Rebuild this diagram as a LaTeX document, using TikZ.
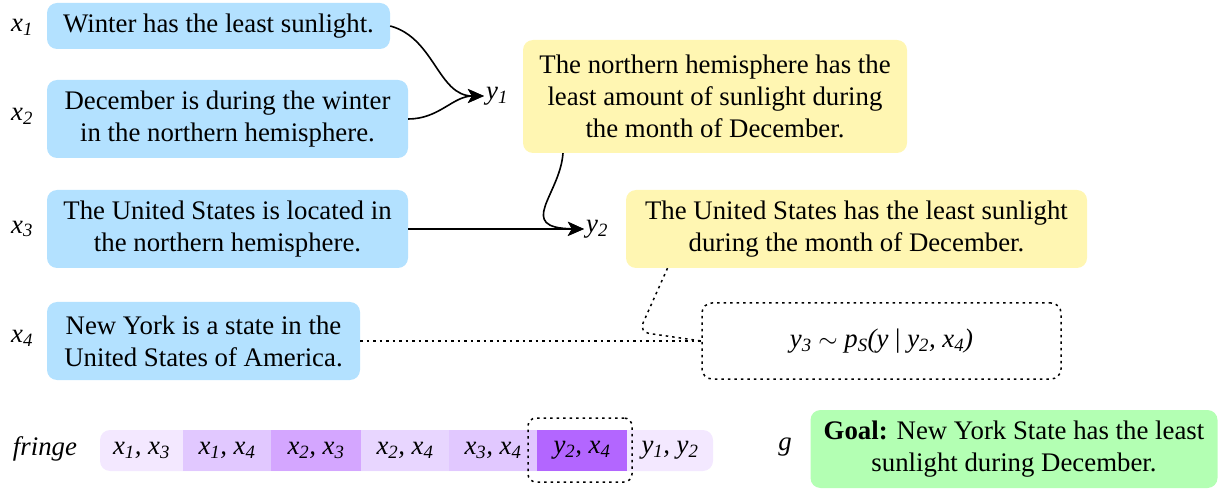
\documentclass[tikz,border=0pt]{standalone}
\usepackage{fontspec}
\setmainfont{Liberation Serif}
\usetikzlibrary{arrows.meta}
\definecolor{bluebox}{RGB}{179,225,255}
\definecolor{yellowbox}{RGB}{255,246,178}
\definecolor{greenbox}{RGB}{179,255,179}
\definecolor{pA}{RGB}{243,232,255}
\definecolor{pB}{RGB}{225,200,255}
\definecolor{pC}{RGB}{212,166,255}
\definecolor{pD}{RGB}{232,214,255}
\definecolor{pE}{RGB}{179,102,255}
\newcommand\vr[2]{\textit{#1\textsubscript{#2}}}
\begin{document}
\begin{tikzpicture}[x=1pt,y=-1pt,
  every node/.style={font=\fontsize{26.8}{32}\selectfont},
  card/.style={rounded corners=10pt, align=center, inner sep=0pt},
  inbox/.style={card, fill=bluebox},
  outbox/.style={card, fill=yellowbox},
  lbl/.style={inner sep=2pt},
  conn/.style={line width=1.6pt, -{Stealth[length=16pt,width=14pt,inset=4pt]}},
  dotline/.style={line width=1.5pt, dash pattern=on 2.5pt off 4pt},
  cell/.style={inner sep=0pt, minimum height=41pt}
]
\useasboundingbox (0,0) rectangle (1219,489);

% premises
\node[inbox, minimum width=343pt, minimum height=46pt] (b1) at (218.5,26) {Winter has the least sunlight.};
\node[inbox, minimum width=361pt, minimum height=78pt] (b2) at (227.5,119) {December is during the winter\\in the northern hemisphere.};
\node[inbox, minimum width=361pt, minimum height=78pt] (b3) at (227.5,229) {The United States is located in\\the northern hemisphere.};
\node[inbox, minimum width=313pt, minimum height=78pt] (b4) at (203.5,341) {New York is a state in the\\United States of America.};

\node[lbl] (lx1) at (22,27) {\vr{x}{1}};
\node[lbl] (lx2) at (22,116) {\vr{x}{2}};
\node[lbl] (lx3) at (22,229) {\vr{x}{3}};
\node[lbl] (lx4) at (22,338) {\vr{x}{4}};

% conclusions
\node[lbl] (y1) at (497,96) {\vr{y}{1}};
\node[outbox, minimum width=384pt, minimum height=113pt] (yl1) at (715,96.5) {The northern hemisphere has the\\least amount of sunlight during\\the month of December.};
\node[lbl] (y2) at (597,229) {\vr{y}{2}};
\node[outbox, minimum width=461pt, minimum height=78pt] (yl2) at (856.5,229) {The United States has the least sunlight\\during the month of December.};

\node[card, draw, dotline, minimum width=359pt, minimum height=76pt] (samp) at (881.5,341)
  {\vr{y}{3} $\sim$ \textit{p\textsubscript{S}}\textit{(y {\upshape|} }\vr{y}{2}\textit{, }\vr{x}{4}\textit{)}};

% connectors
\draw[conn] (b1.east) to[out=-15,in=180] (y1.west);
\draw[conn] (b2.east) to[out=0,in=180] (y1.west);
\draw[conn] ([xshift=-152pt]yl1.south) .. controls (560,195) and (515,228) .. (y2.west);
\draw[conn] (b3.east) -- (y2.west);
\draw[dotline] (b4.east) -- (samp.west);
\draw[dotline, rounded corners=10pt] ([xshift=-189pt]yl2.south) -- (639,332) -- (samp.west);

% fringe
\node[lbl] (fl) at (45,449) {\textit{fringe}};
\node[inner sep=0pt, rounded corners=10pt, fill=pA, minimum width=613pt, minimum height=41pt] (bar) at (406.5,450.5) {};
\node[cell, minimum width=83pt] (c1) at (141.5,450.5) {\vr{x}{1}\textit{, }\vr{x}{3}};
\node[cell, fill=pB, minimum width=88pt] (c2) at (227,450.5) {\vr{x}{1}\textit{, }\vr{x}{4}};
\node[cell, fill=pC, minimum width=90pt] (c3) at (316,450.5) {\vr{x}{2}\textit{, }\vr{x}{3}};
\node[cell, fill=pD, minimum width=88pt] (c4) at (405,450.5) {\vr{x}{2}\textit{, }\vr{x}{4}};
\node[cell, fill=pB, minimum width=88pt] (c5) at (493,450.5) {\vr{x}{3}\textit{, }\vr{x}{4}};
\node[cell, fill=pE, minimum width=90pt] (c6) at (582,450.5) {\vr{y}{2}\textit{, }\vr{x}{4}};
\node[cell, minimum width=86pt] (c7) at (670,450.5) {\vr{y}{1}\textit{, }\vr{y}{2}};
\node[draw, dotline, rounded corners=8pt, inner sep=0pt, minimum width=104pt, minimum height=64pt] (sel) at (580,450) {};

% goal
\node[lbl] (gl) at (785,447) {\textit{g}};
\node[card, fill=greenbox, minimum width=407pt, minimum height=78pt] (goal) at (1014,449) {\textbf{Goal:} New York State has the least\\sunlight during December.};
\end{tikzpicture}
\end{document}
